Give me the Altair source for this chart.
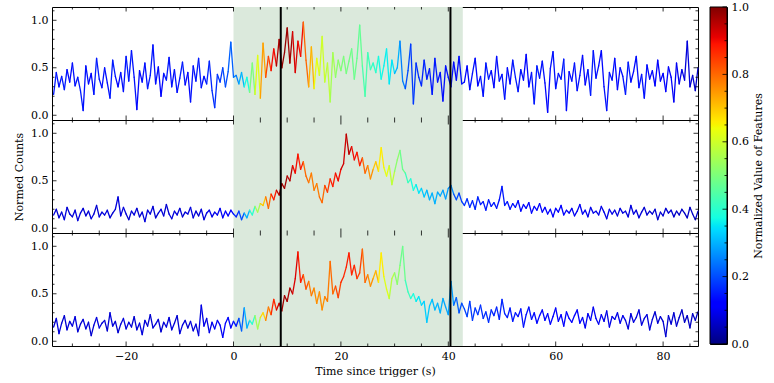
import altair as alt
import numpy as np
import pandas as pd

# ---------------- data ----------------
t_start = -33.5   # first sample time (s)
t_step = 0.5      # sample spacing (s)

counts_top = [
    0.22, 0.45, 0.30, 0.41, 0.27, 0.48, 0.35, 0.55, 0.31, 0.40,
    0.26, 0.05, 0.52, 0.33, 0.44, 0.22, 0.60, 0.38, 0.29, 0.50,
    0.34, 0.18, 0.58, 0.41, 0.30, 0.45, 0.25, 0.62, 0.36, 0.68,
    0.40, 0.06, 0.47, 0.35, 0.55, 0.28, 0.42, 0.74, 0.33, 0.51,
    0.20, 0.44, 0.37, 0.61, 0.30, 0.48, 0.24, 0.39, 0.56, 0.32,
    0.45, 0.14, 0.52, 0.36, 0.60, 0.29, 0.41, 0.33, 0.57, 0.26,
    0.08, 0.43, 0.35, 0.50, 0.30, 0.46, 0.77, 0.40,
    # burst 0.5 .. 42.5
    0.42, 0.33, 0.45, 0.30, 0.40, 0.24,
    0.55, 0.22, 0.63, 0.18,
    0.76, 0.40, 0.62, 0.47, 0.70, 0.52,
    0.80, 0.50, 0.66, 0.92, 0.55, 0.88, 0.45, 0.78,
    0.62, 0.98, 0.58, 0.30,
    0.72, 0.28, 0.60, 0.42, 0.83, 0.35, 0.55, 0.14, 0.66, 0.40, 0.58, 0.47,
    0.62, 0.44, 0.57, 0.70, 0.38, 0.60, 0.95, 0.52, 0.20, 0.66, 0.48, 0.55,
    0.45, 0.62, 0.38, 0.52, 0.70, 0.33, 0.58, 0.44,
    0.50, 0.78, 0.36, 0.28, 0.47, 0.75, 0.12, 0.55, 0.40, 0.31, 0.58, 0.38, 0.49,
    0.22, 0.60, 0.35, 0.45, 0.15, 0.52, 0.40, 0.30, 0.56, 0.37, 0.62, 0.33,
    # after 43.0 .. 86.5
    0.35, 0.52, 0.27, 0.44, 0.60, 0.31, 0.41, 0.20, 0.55, 0.38,
    0.47, 0.29, 0.62, 0.36, 0.43, 0.17, 0.50, 0.33, 0.58, 0.40,
    0.25, 0.48, 0.37, 0.64, 0.30, 0.45, 0.12, 0.52, 0.39, 0.57,
    0.34, 0.03, 0.49, 0.67, 0.28, 0.44, 0.38, 0.59, 0.05, 0.46,
    0.36, 0.55, 0.26, 0.42, 0.63, 0.32, 0.48, 0.21, 0.68, 0.39,
    0.52, 0.68, 0.30, 0.05, 0.45, 0.37, 0.60, 0.27, 0.50, 0.41,
    0.22, 0.56, 0.35, 0.46, 0.62, 0.29, 0.43, 0.18, 0.53, 0.38,
    0.47, 0.31, 0.58, 0.36, 0.44, 0.25, 0.51, 0.40, 0.14, 0.55,
    0.33, 0.48, 0.37, 0.78, 0.30, 0.42, 0.26, 0.50,
]

counts_mid = [
    0.14, 0.20, 0.11, 0.17, 0.09, 0.22, 0.15, 0.12, 0.19, 0.08,
    0.16, 0.21, 0.13, 0.18, 0.10, 0.15, 0.24, 0.12, 0.17, 0.14,
    0.19, 0.11, 0.16, 0.20, 0.33, 0.13, 0.22, 0.15, 0.09, 0.18,
    0.14, 0.21, 0.12, 0.17, 0.07, 0.19, 0.15, 0.23, 0.11, 0.16,
    0.20, 0.13, 0.25, 0.15, 0.10, 0.18, 0.14, 0.21, 0.12, 0.17,
    0.15, 0.22, 0.11, 0.18, 0.13, 0.20, 0.09, 0.16, 0.19, 0.12,
    0.17, 0.14, 0.21, 0.11, 0.18, 0.13, 0.19, 0.15,
    # burst
    0.12, 0.18, 0.09, 0.16, 0.11, 0.19,
    0.14, 0.23, 0.17, 0.26,
    0.24, 0.33, 0.21, 0.36, 0.30, 0.40,
    0.35, 0.47, 0.42, 0.55, 0.50, 0.66, 0.58, 0.78,
    0.62, 0.70, 0.55, 0.48, 0.58, 0.40, 0.47, 0.33,
    0.27, 0.45, 0.38, 0.52, 0.44, 0.58, 0.50, 0.62, 0.68, 0.99,
    0.78, 0.86, 0.72, 0.80, 0.66, 0.74,
    0.58, 0.66, 0.52, 0.62,
    0.70, 0.60, 0.85, 0.64,
    0.55, 0.66, 0.46, 0.60,
    0.72, 0.82, 0.62, 0.58,
    0.48, 0.52, 0.40, 0.46, 0.37, 0.42,
    0.33, 0.40, 0.30, 0.37, 0.26, 0.38, 0.34, 0.40, 0.31, 0.42,
    0.45, 0.36, 0.30, 0.37, 0.28,
    # after
    0.24, 0.31, 0.22, 0.29, 0.20, 0.33, 0.25, 0.28, 0.19, 0.30,
    0.23, 0.27, 0.21, 0.30, 0.44, 0.24, 0.28, 0.20, 0.26, 0.22,
    0.29, 0.18, 0.25, 0.21, 0.27, 0.16, 0.23, 0.19, 0.26, 0.17,
    0.22, 0.15, 0.20, 0.12, 0.21, 0.17, 0.24, 0.14, 0.19, 0.16,
    0.21, 0.13, 0.18, 0.25, 0.15, 0.19, 0.12, 0.22, 0.16, 0.18,
    0.14, 0.23, 0.17, 0.10, 0.20, 0.15, 0.19, 0.13, 0.21, 0.16,
    0.18, 0.12, 0.24, 0.15, 0.19, 0.11, 0.17, 0.22, 0.14, 0.18,
    0.15, 0.20, 0.09, 0.17, 0.13, 0.21, 0.16, 0.19, 0.12, 0.18,
    0.14, 0.20, 0.16, 0.11, 0.22, 0.15, 0.09, 0.18,
]

counts_bot = [
    0.15, 0.24, 0.08, 0.19, 0.27, 0.12, 0.21, 0.16, 0.26, 0.10,
    0.18, 0.23, 0.13, 0.20, 0.06, 0.17, 0.25, 0.14, 0.19, 0.22,
    0.11, 0.30, 0.16, 0.21, 0.09, 0.18, 0.24, 0.13, 0.20, 0.15,
    0.26, 0.12, 0.19, 0.07, 0.22, 0.16, 0.28, 0.14, 0.18, 0.23,
    0.10, 0.20, 0.15, 0.25, 0.12, 0.19, 0.27, 0.08, 0.17, 0.22,
    0.14, 0.21, 0.11, 0.18, 0.06, 0.38, 0.16, 0.24, 0.09, 0.20,
    0.13, 0.22, 0.17, 0.04, 0.19, 0.25, 0.14, 0.21,
    # burst
    0.16, 0.24, 0.11, 0.35, 0.14, 0.22,
    0.18, 0.27, 0.13, 0.25,
    0.30, 0.22, 0.36, 0.28, 0.44, 0.33,
    0.40, 0.32, 0.48, 0.42, 0.56, 0.50, 0.66, 0.94,
    0.62, 0.70, 0.55, 0.63,
    0.48, 0.56, 0.40, 0.52, 0.33, 0.47, 0.42, 0.84,
    0.50, 0.58, 0.46, 0.62,
    0.68, 0.78, 0.93, 0.70, 0.80, 0.66,
    0.72, 0.97, 0.62, 0.70, 0.58, 0.66,
    0.74, 0.62, 0.93, 0.68, 0.55, 0.45,
    0.66, 0.72, 0.60, 0.80, 1.00, 0.64,
    0.52, 0.45, 0.50, 0.42, 0.47, 0.38,
    0.42, 0.20, 0.37, 0.44, 0.33, 0.40, 0.30, 0.45, 0.36, 0.28,
    0.63, 0.38, 0.46, 0.30, 0.40,
    # after
    0.34, 0.26, 0.42, 0.22, 0.35, 0.28, 0.38, 0.24, 0.31, 0.20,
    0.33, 0.27, 0.36, 0.23, 0.44, 0.29, 0.25, 0.35, 0.21, 0.30,
    0.26, 0.34, 0.15, 0.28, 0.36, 0.23, 0.30, 0.19, 0.27, 0.33,
    0.22, 0.29, 0.18, 0.26, 0.35, 0.21, 0.28, 0.16, 0.31, 0.24,
    0.20, 0.27, 0.33, 0.19, 0.25, 0.14, 0.29, 0.22, 0.36, 0.24,
    0.18, 0.28, 0.21, 0.32, 0.15, 0.26, 0.23, 0.30, 0.19, 0.27,
    0.22, 0.13, 0.29, 0.20, 0.25, 0.33, 0.17, 0.24, 0.28, 0.12,
    0.23, 0.31, 0.19, 0.26, 0.21, 0.05, 0.27, 0.18, 0.30, 0.16,
    0.25, 0.33, 0.20, 0.27, 0.14, 0.29, 0.22, 0.31,
]

feat_start = -34   # one feature value per second, from -34 s to 86 s
feat_top = [
    0.15, 0.14, 0.15, 0.13, 0.14, 0.15, 0.14, 0.13, 0.15, 0.14,
    0.14, 0.15, 0.13, 0.14, 0.15, 0.14, 0.13, 0.14, 0.15, 0.14,
    0.13, 0.15, 0.14, 0.14, 0.15, 0.13, 0.14, 0.15, 0.14, 0.16,
    0.17, 0.18, 0.20, 0.22,
    0.25, 0.30, 0.38, 0.50, 0.62, 0.74, 0.84, 0.90, 0.96, 0.98,
    0.97, 0.92, 0.90, 0.80, 0.72, 0.63, 0.60, 0.58, 0.55, 0.52,
    0.50, 0.49, 0.48, 0.47, 0.44, 0.42, 0.40, 0.37, 0.36, 0.35,
    0.30, 0.25, 0.20, 0.18, 0.17, 0.16, 0.15, 0.15, 0.14, 0.14,
    0.14, 0.13, 0.14, 0.13,
    0.14, 0.13, 0.14, 0.15, 0.13, 0.14, 0.14, 0.13, 0.15, 0.14,
    0.13, 0.14, 0.15, 0.14, 0.13, 0.14, 0.14, 0.15, 0.13, 0.14,
    0.14, 0.13, 0.15, 0.14, 0.13, 0.14, 0.14, 0.13, 0.14, 0.15,
    0.13, 0.14, 0.14, 0.13, 0.12, 0.12, 0.11, 0.12, 0.10, 0.09,
    0.08, 0.07, 0.06,
]
feat_mid = [
    0.08, 0.07, 0.08, 0.07, 0.08, 0.08, 0.07, 0.08, 0.07, 0.08,
    0.08, 0.07, 0.08, 0.08, 0.07, 0.08, 0.07, 0.08, 0.08, 0.07,
    0.08, 0.07, 0.08, 0.08, 0.07, 0.08, 0.08, 0.07, 0.08, 0.09,
    0.09, 0.10, 0.11, 0.12,
    0.16, 0.20, 0.30, 0.40, 0.55, 0.70, 0.80, 0.88, 0.95, 0.97,
    0.95, 0.90, 0.88, 0.80, 0.78, 0.78, 0.80, 0.85, 0.88, 0.90,
    0.93, 0.95, 0.90, 0.88, 0.80, 0.76, 0.70, 0.66, 0.63, 0.58,
    0.52, 0.48, 0.42, 0.38, 0.35, 0.32, 0.30, 0.30, 0.29, 0.28,
    0.26, 0.20, 0.18, 0.17,
    0.16, 0.16, 0.15, 0.15, 0.15, 0.14, 0.15, 0.14, 0.14, 0.13,
    0.13, 0.13, 0.12, 0.12, 0.12, 0.11, 0.11, 0.11, 0.10, 0.10,
    0.10, 0.10, 0.09, 0.09, 0.09, 0.09, 0.09, 0.08, 0.08, 0.08,
    0.08, 0.08, 0.07, 0.07, 0.07, 0.07, 0.07, 0.07, 0.06, 0.06,
    0.06, 0.06, 0.06,
]
feat_bot = [
    0.07, 0.08, 0.07, 0.08, 0.08, 0.07, 0.08, 0.07, 0.08, 0.08,
    0.07, 0.08, 0.07, 0.08, 0.08, 0.07, 0.08, 0.08, 0.07, 0.08,
    0.07, 0.08, 0.08, 0.07, 0.08, 0.07, 0.08, 0.08, 0.09, 0.09,
    0.10, 0.10, 0.11, 0.13,
    0.15, 0.22, 0.30, 0.40, 0.55, 0.68, 0.78, 0.87, 0.93, 0.97,
    0.96, 0.92, 0.88, 0.82, 0.78, 0.76, 0.76, 0.78, 0.80, 0.84,
    0.87, 0.88, 0.87, 0.84, 0.80, 0.76, 0.72, 0.66, 0.62, 0.57,
    0.52, 0.48, 0.42, 0.38, 0.35, 0.33, 0.32, 0.31, 0.30, 0.29,
    0.28, 0.22, 0.20, 0.19,
    0.18, 0.18, 0.17, 0.17, 0.16, 0.16, 0.16, 0.15, 0.15, 0.14,
    0.14, 0.14, 0.13, 0.13, 0.13, 0.12, 0.12, 0.12, 0.11, 0.11,
    0.11, 0.10, 0.10, 0.10, 0.10, 0.09, 0.09, 0.09, 0.09, 0.08,
    0.08, 0.08, 0.08, 0.08, 0.07, 0.07, 0.07, 0.07, 0.07, 0.06,
    0.06, 0.06, 0.06,
]

shade_range = [0.0, 42.7]
marker_times = [8.8, 40.4]

x_domain = [-33.8, 86.5]
y_domain = [-0.05, 1.14]
x_major = [-20, 0, 20, 40, 60, 80]
x_minor = [-30, -25, -15, -10, -5, 5, 10, 15, 25, 30, 35, 45, 50, 55, 65, 70, 75, 85]
y_major = [0.0, 0.5, 1.0]
y_minor = [0.1, 0.2, 0.3, 0.4, 0.6, 0.7, 0.8, 0.9, 1.1]
cb_major = [0.0, 0.2, 0.4, 0.6, 0.8, 1.0]
cb_minor = [0.05, 0.1, 0.15, 0.25, 0.3, 0.35, 0.45, 0.5, 0.55, 0.65, 0.7, 0.75, 0.85, 0.9, 0.95]

jet_stops = [0.0, 0.11, 0.125, 0.34, 0.35, 0.375, 0.64, 0.65, 0.66, 0.89, 0.91, 1.0]
jet_colors = ["#000080", "#0000ff", "#0000ff", "#00dbff", "#00e6f7", "#15ffe2",
              "#efff08", "#f7f500", "#ffec00", "#ff1300", "#e80000", "#800000"]

# ---------------- build ----------------
FONT = "DejaVu Serif, Liberation Serif, serif"
W, H = 646, 113
CBW, CBH = 17, 337
MAJ, MIN = 4.5, 2.5


def segments(counts, feats):
    assert len(counts) == 241, len(counts)
    assert len(feats) == 121, len(feats)
    t = t_start + t_step * np.arange(len(counts))
    v = np.asarray(counts, dtype=float)
    f = np.asarray(feats, dtype=float)
    idx = np.clip(np.floor(t[:-1]).astype(int) - feat_start, 0, len(f) - 1)
    return pd.DataFrame({"t": t[:-1], "v": v[:-1], "t2": t[1:], "v2": v[1:], "f": f[idx]})


xs = alt.Scale(domain=x_domain, nice=False, zero=False)
ys = alt.Scale(domain=y_domain, nice=False, zero=False)
cs = alt.Scale(domain=jet_stops, range=jet_colors, interpolate="rgb")

shade_df = pd.DataFrame({"a": [shade_range[0]], "b": [shade_range[1]]})
marker_df = pd.DataFrame({"m": marker_times})


def xticks(vals, size, at_top, xaxis):
    y0, y1 = (0, size) if at_top else (H, H - size)
    return alt.Chart(pd.DataFrame({"tx": vals})).mark_rule(color="black", strokeWidth=0.8).encode(
        x=alt.X("tx:Q", scale=xs, axis=xaxis), y=alt.value(y0), y2=alt.value(y1))


def yticks(vals, size, at_left, yaxis, scale=ys, width=W):
    x0, x1 = (0, size) if at_left else (width, width - size)
    return alt.Chart(pd.DataFrame({"ty": vals})).mark_rule(color="black", strokeWidth=0.8).encode(
        y=alt.Y("ty:Q", scale=scale, axis=yaxis), x=alt.value(x0), x2=alt.value(x1))


def panel(counts, feats, show_x=False, ytitle=None):
    df = segments(counts, feats)
    if show_x:
        xaxis = alt.Axis(values=x_major, ticks=False, domain=False, grid=False,
                         labelPadding=4, title="Time since trigger (s)", titlePadding=4)
    else:
        xaxis = None
    yaxis = alt.Axis(values=y_major, format=".1f", ticks=False, domain=False, grid=False,
                     labelPadding=4, title=ytitle, titlePadding=6)

    shade = alt.Chart(shade_df).mark_rect(color="#dbe9dc").encode(
        x=alt.X("a:Q", scale=xs, axis=xaxis), x2="b:Q")
    segs = alt.Chart(df).mark_rule(strokeWidth=1.3, strokeCap="round").encode(
        x=alt.X("t:Q", scale=xs, axis=xaxis),
        y=alt.Y("v:Q", scale=ys, axis=yaxis),
        x2="t2:Q", y2="v2:Q",
        color=alt.Color("f:Q", scale=cs, legend=None),
    )
    marks = alt.Chart(marker_df).mark_rule(color="black", strokeWidth=2).encode(
        x=alt.X("m:Q", scale=xs, axis=xaxis))
    return alt.layer(
        shade, segs, marks,
        xticks(x_major, MAJ, True, xaxis), xticks(x_minor, MIN, True, xaxis),
        xticks(x_major, MAJ, False, xaxis), xticks(x_minor, MIN, False, xaxis),
        yticks(y_major, MAJ, True, yaxis), yticks(y_minor, MIN, True, yaxis),
        yticks(y_major, MAJ, False, yaxis), yticks(y_minor, MIN, False, yaxis),
        width=W, height=H,
    )


p1 = panel(counts_top, feat_top, ytitle=None)
p2 = panel(counts_mid, feat_mid, ytitle="Normed Counts")
p3 = panel(counts_bot, feat_bot, show_x=True, ytitle=None)

left = alt.vconcat(p1, p2, p3, spacing=0, bounds="flush")

# colorbar
cb_scale = alt.Scale(domain=[0, 1], nice=False, zero=False)
cb_axis = alt.Axis(orient="right", values=cb_major, format=".1f", ticks=False,
                   domain=False, grid=False, labelPadding=4,
                   title="Normalized Value of Features", titleAngle=270,
                   titleBaseline="top", titlePadding=4)
grad = alt.LinearGradient(
    gradient="linear",
    stops=[alt.GradientStop(offset=s, color=c) for s, c in zip(jet_stops, jet_colors)],
    x1=0, x2=0, y1=1, y2=0,
)
cb_df = pd.DataFrame({"lo": [0.0], "hi": [1.0]})
cbar = alt.Chart(cb_df).mark_rect(fill=grad, stroke="black", strokeWidth=1).encode(
    y=alt.Y("lo:Q", scale=cb_scale, axis=cb_axis),
    y2="hi:Q",
)
colorbar = alt.layer(
    cbar,
    yticks(cb_major, MAJ, False, cb_axis, scale=cb_scale, width=CBW),
    yticks(cb_minor, MIN, False, cb_axis, scale=cb_scale, width=CBW),
    width=CBW, height=CBH,
)

chart = alt.hconcat(left, colorbar, spacing=9).properties(
    padding={"left": 13, "top": 0, "right": 0, "bottom": 0},
    background="white",
).configure(
    font=FONT
).configure_view(
    stroke="black", strokeWidth=1
).configure_axis(
    labelFont=FONT, titleFont=FONT, labelFontSize=11, titleFontSize=11,
    labelColor="black", titleColor="black", titleFontWeight="normal",
)

chart.save("out.html", embed_options={"renderer": "svg", "actions": False})
